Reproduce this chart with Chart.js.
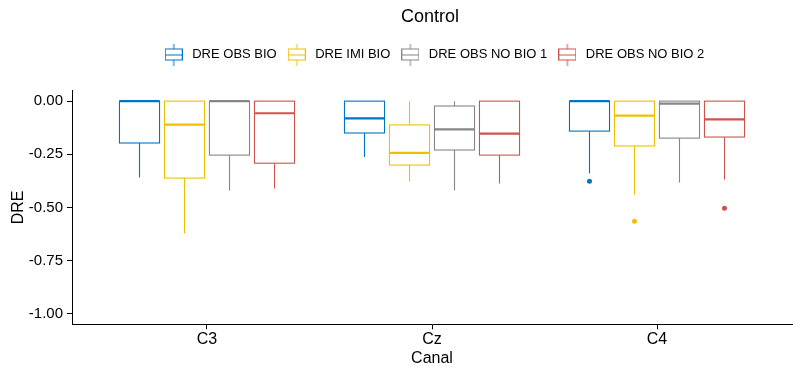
<!DOCTYPE html>
<html>
<head>
<meta charset="utf-8">
<script src="https://cdn.jsdelivr.net/npm/chart.js@4.4.1/dist/chart.umd.min.js"></script>
<style>
html,body{margin:0;padding:0;background:#ffffff;}
#wrap{width:800px;height:375px;}
</style>
</head>
<body>
<div id="wrap"><canvas id="c" width="800" height="375"></canvas></div>
<script>
// ---- data ----
const categories = ['C3', 'Cz', 'C4'];
const seriesNames = ['DRE OBS BIO', 'DRE IMI BIO', 'DRE OBS NO BIO 1', 'DRE OBS NO BIO 2'];
const seriesColors = ['#0073C2', '#EFC000', '#868686', '#CD534C'];
const yTickValues = [0, -0.25, -0.5, -0.75, -1];

// rows = series, columns = categories (C3, Cz, C4)
const lowerWhisker = [
  [-0.359, -0.263, -0.340],
  [-0.623, -0.378, -0.440],
  [-0.421, -0.421, -0.383],
  [-0.411, -0.388, -0.369]
];
const q1 = [
  [-0.197, -0.150, -0.141],
  [-0.362, -0.301, -0.211],
  [-0.254, -0.230, -0.174],
  [-0.292, -0.254, -0.169]
];
const median = [
  [0.000, -0.081, 0.000],
  [-0.111, -0.243, -0.068],
  [0.000, -0.133, -0.012],
  [-0.057, -0.153, -0.086]
];
const q3 = [
  [0.000, 0.000, 0.000],
  [0.000, -0.112, 0.000],
  [0.000, -0.023, 0.000],
  [0.000, 0.000, 0.000]
];
const upperWhisker = [
  [0.000, 0.000, 0.000],
  [0.000, 0.000, 0.000],
  [0.000, 0.000, 0.000],
  [0.000, 0.000, 0.000]
];
const outliers = [
  [[], [], [-0.377]],
  [[], [], [-0.565]],
  [[], [], []],
  [[], [], [-0.504]]
];

// ---- layout helpers ----
const FONT = "'Liberation Sans', Arial, Helvetica, sans-serif";
const DODGE = 0.2;      // distance between series inside a category (axis units)
const BOX_W = 0.178;    // box width (axis units)
const seriesOffset = i => (i - (seriesNames.length - 1) / 2) * DODGE;

// legend icons (ggplot style boxplot key)
function makeIcon(color) {
  const cv = document.createElement('canvas');
  cv.width = 18; cv.height = 22;
  const c = cv.getContext('2d');
  c.strokeStyle = color; c.lineWidth = 1;
  c.fillStyle = '#ffffff';
  c.fillRect(0.5, 5.5, 17, 11);
  c.strokeRect(0.5, 5.5, 17, 11);
  c.beginPath();
  c.moveTo(0.5, 11.5); c.lineTo(17.5, 11.5);
  c.moveTo(9, 0); c.lineTo(9, 5.5);
  c.moveTo(9, 16.5); c.lineTo(9, 22);
  c.stroke();
  return cv;
}
const icons = seriesColors.map(makeIcon);

const datasets = seriesNames.map((name, i) => {
  const pts = [];
  categories.forEach((cat, c) => {
    outliers[i][c].forEach(v => pts.push({ x: c + 1 + seriesOffset(i), y: v }));
  });
  return {
    label: name,
    data: pts,
    backgroundColor: seriesColors[i],
    borderColor: seriesColors[i],
    borderWidth: 0,
    pointRadius: 2.5,
    pointHoverRadius: 2.5,
    showLine: false
  };
});

const boxPlugin = {
  id: 'boxes',
  beforeDatasetsDraw(chart) {
    const ctx = chart.ctx;
    const xs = chart.scales.x, ys = chart.scales.y;
    const halfW = (xs.getPixelForValue(BOX_W) - xs.getPixelForValue(0)) / 2;
    ctx.save();
    seriesNames.forEach((name, i) => {
      categories.forEach((cat, c) => {
        const xc = xs.getPixelForValue(c + 1 + seriesOffset(i));
        const yLo = ys.getPixelForValue(lowerWhisker[i][c]);
        const yQ1 = ys.getPixelForValue(q1[i][c]);
        const yMed = ys.getPixelForValue(median[i][c]);
        const yQ3 = ys.getPixelForValue(q3[i][c]);
        const yHi = ys.getPixelForValue(upperWhisker[i][c]);
        ctx.strokeStyle = seriesColors[i];
        ctx.lineWidth = 1.1;
        // whiskers
        ctx.beginPath();
        ctx.moveTo(xc, yQ1); ctx.lineTo(xc, yLo);
        ctx.moveTo(xc, yQ3); ctx.lineTo(xc, yHi);
        ctx.stroke();
        // box
        ctx.fillStyle = '#ffffff';
        ctx.fillRect(xc - halfW, yQ3, halfW * 2, yQ1 - yQ3);
        ctx.strokeRect(xc - halfW, yQ3, halfW * 2, yQ1 - yQ3);
        // median
        ctx.lineWidth = 2.2;
        ctx.beginPath();
        ctx.moveTo(xc - halfW, yMed); ctx.lineTo(xc + halfW, yMed);
        ctx.stroke();
      });
    });
    ctx.restore();
  }
};

const layoutPlugin = {
  id: 'layoutTweaks',
  beforeLayout(chart) {
    const lg = chart.legend;
    if (lg && !lg.__patched) {
      const orig = lg.fit;
      lg.fit = function () { orig.call(this); this.height += 19.5; };
      lg.__patched = true;
    }
  },
  afterLayout(chart) {
    const ca = chart.chartArea;
    const shift = (ca.left + ca.right) / 2 - chart.width / 2;
    if (chart.legend) { chart.legend.left += shift + 5; chart.legend.right += shift + 5; }
    if (chart.titleBlock) { chart.titleBlock.left += shift + 2; chart.titleBlock.right += shift + 2; }
  }
};

new Chart(document.getElementById('c'), {
  type: 'scatter',
  data: { datasets },
  plugins: [boxPlugin, layoutPlugin],
  options: {
    responsive: false,
    devicePixelRatio: 1,
    animation: false,
    events: [],
    layout: { padding: { top: 0, left: 0, right: 8, bottom: 0 } },
    plugins: {
      tooltip: { enabled: false },
      title: {
        display: true,
        text: 'Control',
        color: '#000000',
        font: { family: FONT, size: 18, weight: 'normal', lineHeight: 1.2 },
        padding: { top: 6, bottom: 12.4 }
      },
      legend: {
        display: true,
        position: 'top',
        labels: {
          usePointStyle: true,
          pointStyleWidth: 24,
          padding: 8,
          color: '#000000',
          font: { family: FONT, size: 13 },
          generateLabels: () => seriesNames.map((n, i) => ({
            text: n,
            pointStyle: icons[i],
            fillStyle: seriesColors[i],
            strokeStyle: seriesColors[i],
            lineWidth: 0,
            hidden: false,
            datasetIndex: i,
            fontColor: '#000000'
          }))
        }
      }
    },
    scales: {
      x: {
        type: 'linear',
        min: 0.4,
        max: 3.6,
        afterBuildTicks: s => { s.ticks = categories.map((c, i) => ({ value: i + 1 })); },
        afterFit: s => { s.height = 50.7; },
        ticks: {
          autoSkip: false,
          maxRotation: 0,
          padding: 1,
          color: '#000000',
          font: { family: FONT, size: 16, lineHeight: 1.2 },
          callback: (v, idx) => categories[idx]
        },
        grid: { display: true, drawOnChartArea: false, drawTicks: true, tickLength: 5, tickColor: '#000000', tickWidth: 1 },
        border: { display: true, color: '#000000', width: 1 },
        title: {
          display: true,
          text: 'Canal',
          color: '#000000',
          font: { family: FONT, size: 16, lineHeight: 1.2 },
          padding: { top: 0, bottom: 6.9 }
        }
      },
      y: {
        type: 'linear',
        min: -1.05,
        max: 0.05,
        afterBuildTicks: s => { s.ticks = yTickValues.map(v => ({ value: v })); },
        afterFit: s => { s.width = 72; },
        ticks: {
          padding: 4,
          color: '#000000',
          font: { family: FONT, size: 15 },
          callback: v => Number(v).toFixed(2)
        },
        grid: { display: true, drawOnChartArea: false, drawTicks: true, tickLength: 5, tickColor: '#000000', tickWidth: 1 },
        border: { display: true, color: '#000000', width: 1 },
        title: {
          display: true,
          text: 'DRE',
          color: '#000000',
          font: { family: FONT, size: 16, lineHeight: 1.2 },
          padding: { top: 9, bottom: 0 }
        }
      }
    }
  }
});
</script>
</body>
</html>
